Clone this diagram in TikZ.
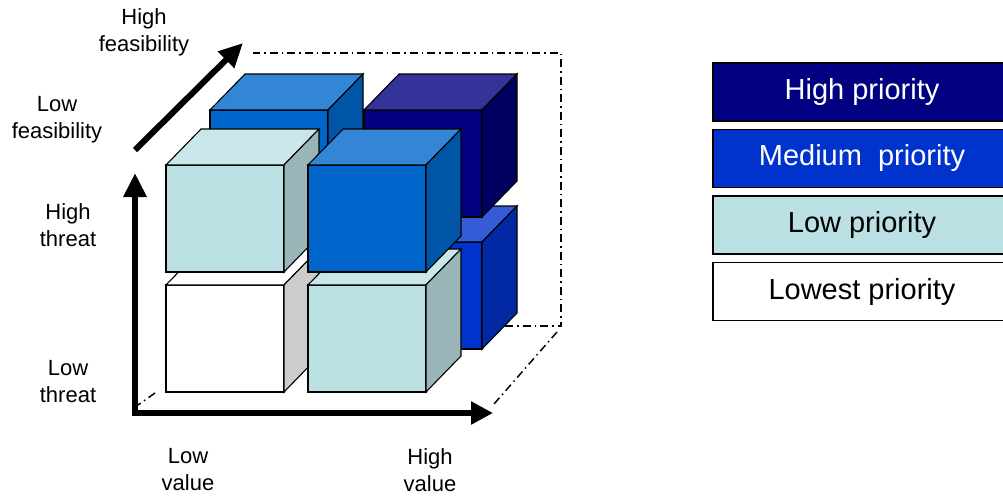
\documentclass[tikz,border=0pt]{standalone}
\usepackage{fontspec}
\setmainfont{Liberation Sans}
\usepackage{tikz}
\usetikzlibrary{positioning}
\usetikzlibrary{arrows.meta}

\definecolor{ltfront}{HTML}{BBE0E3}
\definecolor{lttop}{HTML}{C9E7E9}
\definecolor{ltside}{HTML}{99B5B8}
\definecolor{mdfront}{HTML}{0066CC}
\definecolor{mdtop}{HTML}{3385D6}
\definecolor{mdside}{HTML}{0055A6}
\definecolor{nvfront}{HTML}{000080}
\definecolor{nvtop}{HTML}{333399}
\definecolor{nvside}{HTML}{000060}
\definecolor{bbfront}{HTML}{0033CC}
\definecolor{bbtop}{HTML}{335CD6}
\definecolor{bbside}{HTML}{0029A3}
\definecolor{wside}{HTML}{CCCCCC}

% one box: corner x, corner y, front, top, side
\newcommand{\drawcube}[5]{%
\filldraw[fill=#3] (#1,#2) rectangle ++(118,107);
\filldraw[fill=#4] (#1,#2) -- ++(35,-36) -- ++(118,0) -- ++(-35,36) -- cycle;
\filldraw[fill=#5] ({#1+118},#2) -- ++(35,-36) -- ++(0,107) -- ++(-35,36) -- cycle;
}

\begin{document}
\begin{tikzpicture}[x=1pt,y=-1pt,line width=1.1pt,
  lbl/.style={align=center,inner sep=0pt,font=\fontsize{22}{27}\selectfont},
  prio/.style={draw,line width=1.5pt,minimum width=298pt,minimum height=58pt,inner sep=0pt,font=\fontsize{29}{34}\selectfont},
  axis/.style={line width=6pt,line join=miter,{Triangle[length=24pt,width=22pt]}-{Triangle[length=22pt,width=22pt]}},
  frame/.style={line width=1.5pt,dash pattern=on 8pt off 4pt on 1.5pt off 4pt}]
\useasboundingbox (0,0) rectangle (1003,495);

% dash-dot frame
\draw[frame] (470,326)--(561,326)--(561,53)--(253,53);
\draw[frame] (557,332)--(494,404);
\draw[frame] (155,393)--(138,405);

% back row
\drawcube{364}{242}{bbfront}{bbtop}{bbside}
\drawcube{210}{110}{mdfront}{mdtop}{mdside}
\drawcube{364}{110}{nvfront}{nvtop}{nvside}
% front row
\drawcube{166}{285}{white}{white}{wside}
\drawcube{308}{285}{ltfront}{lttop}{ltside}
\drawcube{166}{165}{ltfront}{lttop}{ltside}
\drawcube{308}{165}{mdfront}{mdtop}{mdside}

% axes
\coordinate(o) at (135,413);
\coordinate(vt) at (135,173);
\coordinate(ht) at (493,413);
\coordinate(f0) at (135,150);
\coordinate(f1) at (243,43);
\draw[axis] (vt)--(o)--(ht);
\draw[line width=6pt,-{Triangle[length=24pt,width=22pt]}] (f0)--(f1);

\node(a)[lbl] at (144,32) {High\\feasibility};
\node(b)[lbl] at (57,120) {Low\\feasibility};
\node(c)[lbl] at (68,225) {High\\threat};
\node(d)[lbl] at (68,382) {Low\\threat};
\node(e)[lbl] at (188,470) {Low\\value};
\node(f)[lbl] at (430,470) {High\\value};

% legend
\node(A)[prio,fill=nvfront,text=white] at (862,92) {High priority};
\node(B)[prio,fill=bbfront,text=white,below=7pt of A] {Medium\ \ priority};
\node(C)[prio,fill=ltfront,below=7pt of B] {Low priority};
\node(D)[prio,fill=white,below=7pt of C] {Lowest priority};
\end{tikzpicture}
\end{document}
